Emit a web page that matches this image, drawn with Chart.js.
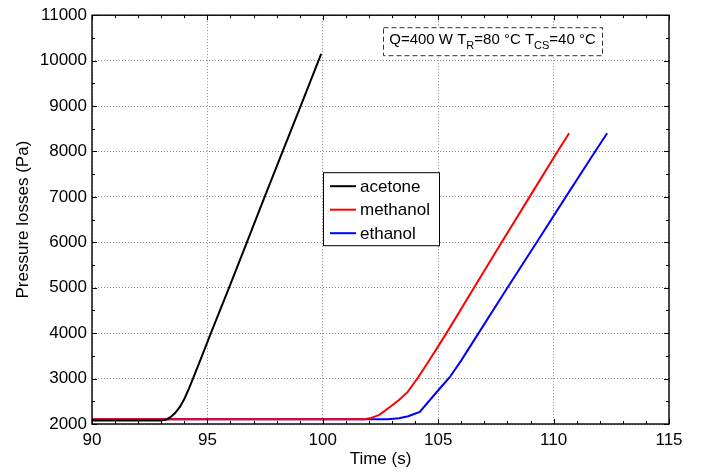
<!DOCTYPE html>
<html lang="en">
<head>
<meta charset="UTF-8">
<title>Pressure losses vs time</title>
<script src="https://cdn.jsdelivr.net/npm/chart.js"></script>
<style>
    html, body { margin: 0; padding: 0; background: #fff; }
    canvas { display: block; }
</style>
</head>
<body>
<canvas id="myChart" width="702" height="473"></canvas>
<script>
// tick labels
const xTicks = [90, 95, 100, 105, 110, 115];
const yTicks = [2000, 3000, 4000, 5000, 6000, 7000, 8000, 9000, 10000, 11000];

// series (time in s, pressure losses in Pa)
const acetoneT = [90, 93.0, 93.2, 93.4, 93.6, 93.8, 94.0, 94.2, 94.4, 94.75, 95.15, 95.94, 96.71, 97.48, 98.26, 99.04, 99.93];
const acetoneP = [2075, 2075, 2095, 2150, 2240, 2370, 2550, 2780, 3030, 3480, 4000, 5000, 6000, 7000, 8000, 9000, 10150];

const methanolT = [90, 101.8, 102.1, 102.45, 102.95, 103.3, 103.67, 104.15, 104.65, 105.36, 106.55, 107.75, 108.96, 110.17, 110.67];
const methanolP = [2105, 2105, 2135, 2200, 2390, 2530, 2700, 3040, 3430, 4000, 5000, 6000, 7000, 8000, 8400];

const ethanolT = [90, 102.8, 103.3, 103.7, 104.2, 105.05, 105.5, 106.0, 106.75, 108.0, 109.27, 110.53, 111.8, 112.32];
const ethanolP = [2105, 2105, 2125, 2170, 2265, 2770, 3030, 3400, 4000, 5000, 6000, 7000, 8000, 8400];

const names = ['acetone', 'methanol', 'ethanol'];
const colors = ['#000000', '#ff0000', '#0000ff'];

const FONT = 'Liberation Sans, Arial, Helvetica, sans-serif';

function pts(ts, ps) {
    return ts.map((t, i) => ({ x: t, y: ps[i] }));
}

const frame = {
    id: 'frame',
    afterDatasetsDraw(chart) {
        const { ctx, chartArea: a, scales: { x, y } } = chart;
        ctx.save();

        // inward ticks on all four sides
        ctx.strokeStyle = '#000';
        ctx.lineWidth = 1;
        ctx.beginPath();
        for (let t = 90; t <= 115; t++) {
            const px = Math.round(x.getPixelForValue(t)) + 0.5;
            const len = t % 5 === 0 ? 5 : 3;
            ctx.moveTo(px, a.bottom); ctx.lineTo(px, a.bottom - len);
            ctx.moveTo(px, a.top); ctx.lineTo(px, a.top + len);
        }
        for (let v = 2000; v <= 11000; v += 500) {
            const py = Math.round(y.getPixelForValue(v)) + 0.5;
            const len = v % 1000 === 0 ? 5 : 3;
            ctx.moveTo(a.left, py); ctx.lineTo(a.left + len, py);
            ctx.moveTo(a.right, py); ctx.lineTo(a.right - len, py);
        }
        ctx.stroke();

        // box
        ctx.lineWidth = 1.4;
        ctx.strokeRect(a.left, a.top, a.right - a.left, a.bottom - a.top);

        // legend
        const lx = a.left + 231, ly = a.top + 157, lw = 116, lh = 73;
        ctx.fillStyle = '#fff';
        ctx.fillRect(lx, ly, lw, lh);
        ctx.lineWidth = 1;
        ctx.strokeRect(lx + 0.5, ly + 0.5, lw, lh);
        ctx.font = '17px ' + FONT;
        ctx.textBaseline = 'middle';
        ctx.textAlign = 'left';
        chart.data.datasets.forEach((ds, i) => {
            const ry = ly + 14 + i * 23.5;
            ctx.strokeStyle = ds.borderColor;
            ctx.lineWidth = 2;
            ctx.beginPath();
            ctx.moveTo(lx + 7, ry); ctx.lineTo(lx + 33, ry);
            ctx.stroke();
            ctx.fillStyle = '#000';
            ctx.fillText(ds.label, lx + 37, ry + 1);
        });

        // condition note
        const nx = a.left + 291, ny = a.top + 12, nw = 219, nh = 28;
        ctx.fillStyle = '#fff';
        ctx.fillRect(nx, ny, nw, nh);
        ctx.strokeStyle = '#333';
        ctx.lineWidth = 1;
        ctx.setLineDash([5, 3]);
        ctx.strokeRect(nx + 0.5, ny + 0.5, nw, nh);
        ctx.setLineDash([]);
        ctx.fillStyle = '#000';
        ctx.textBaseline = 'alphabetic';
        const parts = [['Q=400 W T', 0], ['R', 1], ['=80 °C T', 0], ['CS', 1], ['=40 °C', 0]];
        const fontOf = sub => (sub ? '11px ' : '15px ') + FONT;
        let total = 0;
        parts.forEach(([s, sub]) => { ctx.font = fontOf(sub); total += ctx.measureText(s).width; });
        let cx = nx + (nw - total) / 2;
        const base = ny + 17;
        parts.forEach(([s, sub]) => {
            ctx.font = fontOf(sub);
            ctx.fillText(s, cx, sub ? base + 5 : base);
            cx += ctx.measureText(s).width;
        });

        ctx.restore();
    }
};

const tickFont = { family: FONT, size: 17 };

new Chart(document.getElementById('myChart'), {
    type: 'line',
    data: {
        datasets: [
            { label: names[0], data: pts(acetoneT, acetoneP), borderColor: colors[0] },
            { label: names[1], data: pts(methanolT, methanolP), borderColor: colors[1] },
            { label: names[2], data: pts(ethanolT, ethanolP), borderColor: colors[2] }
        ]
    },
    options: {
        responsive: false,
        animation: false,
        layout: { padding: { top: 15, right: 33, bottom: 0, left: 0 } },
        elements: {
            point: { radius: 0 },
            line: { borderWidth: 2, fill: false, tension: 0 }
        },
        plugins: {
            legend: { display: false },
            tooltip: { enabled: false }
        },
        scales: {
            x: {
                type: 'linear',
                min: 90, max: 115,
                afterBuildTicks: s => { s.ticks = xTicks.map(v => ({ value: v })); },
                afterFit: s => { s.height = 49; },
                border: { display: false, dash: [1, 2] },
                grid: { color: '#8c8c8c', lineWidth: 1, drawTicks: false, tickLength: 0 },
                ticks: { color: '#000', font: tickFont, padding: 6, maxRotation: 0, callback: v => String(v) },
                title: { display: true, text: 'Time (s)', color: '#000', font: tickFont, padding: { top: 0, bottom: 3 } }
            },
            y: {
                min: 2000, max: 11000,
                afterBuildTicks: s => { s.ticks = yTicks.map(v => ({ value: v })); },
                afterFit: s => { s.width = 92; },
                border: { display: false, dash: [1, 2] },
                grid: { color: '#8c8c8c', lineWidth: 1, drawTicks: false, tickLength: 0 },
                ticks: { color: '#000', font: tickFont, padding: 5, callback: v => String(v) },
                title: { display: true, text: 'Pressure losses (Pa)', color: '#000', font: tickFont, padding: { top: 13, bottom: 0 } }
            }
        }
    },
    plugins: [frame]
});
</script>
</body>
</html>
